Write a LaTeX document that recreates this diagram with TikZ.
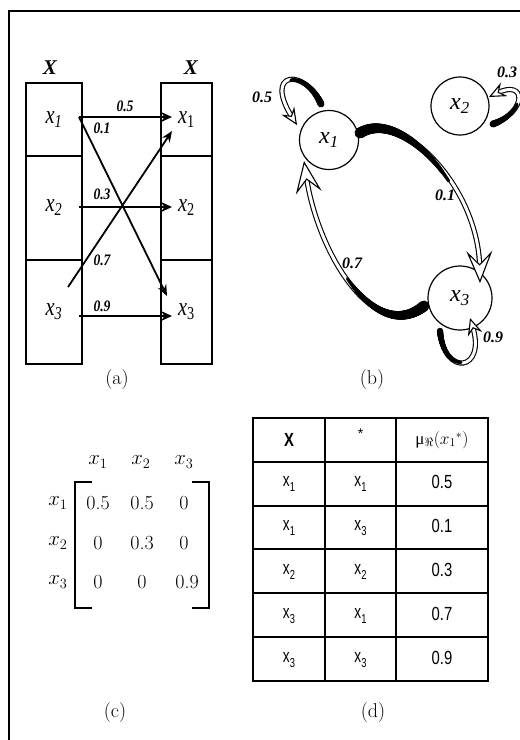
\documentclass[tikz,border=0pt]{standalone}
\usepackage{fontspec}
\usetikzlibrary{arrows.meta,decorations.markings,calc}
\newfontfamily\tnr{Liberation Serif}
\newfontfamily\lsans{Liberation Sans}
\newcommand\fs[1]{\fontsize{#1}{#1}\selectfont}
\newcommand\tx[1]{\scalebox{0.72}[1]{x\raisebox{-0.45ex}{\fs{13}#1}}}
\newcommand\tnum[1]{\scalebox{0.78}[1]{#1}}
\newcommand\cx[1]{\scalebox{0.85}[1.08]{x\textsubscript{#1}}}
% ribbon arrow: #1 start, #2 c1, #3 c2, #4 tip, #5 taper fraction, #6 start radius, #7 arrow tip, #8 shorten
\newcommand\ribbon[8]{%
  \draw[line width=1.1, double=white, double distance=3, shorten >=#8] #1 .. controls #2 and #3 .. #4;
  \path[decorate, decoration={markings,
    mark=between positions 0 and #5 step 0.5pt with {%
      \pgfmathsetmacro\rr{max(1.6,1.6+(#6-1.6)*(1-\pgfkeysvalueof{/pgf/decoration/mark info/sequence number}*0.5/(#5*\pgfdecoratedpathlength)))}%
      \fill (0,0) circle (\rr pt);}}] #1 .. controls #2 and #3 .. #4;
  \draw[line width=1.1, -{#7}] ($#4!2pt!#3$) -- #4;
}
\begin{document}
\begin{tikzpicture}[x=1pt,y=-1pt,
  cellbox/.style={draw, line width=1.5, inner sep=0, font=\tnr\itshape\fs{24}},
  hdr/.style={inner sep=0, font=\tnr\bfseries\itshape\fs{21}},
  alabel/.style={inner sep=0, font=\tnr\bfseries\itshape\fs{16}},
  aarrow/.style={line width=1.8, -{Stealth[length=11pt,width=9pt]}},
  harrow/.style={line width=2.8, -{Stealth[length=11pt,width=10pt]}},
  state/.style={draw, circle, line width=1.2, inner sep=0, font=\tnr\itshape\fs{24}},
  blabel/.style={inner sep=0, font=\tnr\bfseries\itshape\fs{16}},
  sublabel/.style={inner sep=0, font=\fs{20}},
  mat/.style={inner sep=0, font=\fs{20}},
  tcell/.style={inner sep=0, font=\lsans\fs{19}},
  bigtip/.style={},
]
\useasboundingbox (0,0) rectangle (520,740);
\fill[white] (0,0) rectangle (520,740);
\draw[line width=2.5] (9,740) -- (9,11) -- (520,11);

% ---------------- (a)
\node[hdr] (XL) at (50,68) {X};
\node[hdr] (XR) at (191,68) {X};
\node[cellbox, minimum width=56, minimum height=73] (L1) at (54,119.5) {\cx{1}};
\node[cellbox, minimum width=56, minimum height=104] (L2) at (54,208) {\cx{2}};
\node[cellbox, minimum width=56, minimum height=104] (L3) at (54,312) {\cx{3}};
\node[cellbox, minimum width=51, minimum height=73] (R1) at (186.5,119.5) {\cx{\upshape 1}};
\node[cellbox, minimum width=51, minimum height=104] (R2) at (186.5,208) {\cx{\upshape 2}};
\node[cellbox, minimum width=51, minimum height=104] (R3) at (186.5,312) {\cx{\upshape 3}};

\coordinate (p1) at (79,117);  \coordinate (q1) at (172,117);
\coordinate (p2) at (79,207);  \coordinate (q2) at (172,207);
\coordinate (p3) at (79,316);  \coordinate (q3) at (172,316);
\coordinate (q3d) at (167,296);
\coordinate (p3d) at (68,287); \coordinate (q1d) at (172,131);
\draw[harrow] (p1) -- (q1);
\draw[aarrow] (p1) -- (q3d);
\draw[harrow] (p2) -- (q2);
\draw[aarrow] (p3d) -- (q1d);
\draw[harrow] (p3) -- (q3);
\node[alabel] (l05) at (125,106) {\scalebox{0.85}[1]{0.5}};
\node[alabel] (l01) at (102,128) {\scalebox{0.85}[1]{0.1}};
\node[alabel] (l03) at (102,194) {\scalebox{0.85}[1]{0.3}};
\node[alabel] (l07) at (102,260) {\scalebox{0.85}[1]{0.7}};
\node[alabel] (l09) at (102,306) {\scalebox{0.85}[1]{0.9}};
\node[sublabel] (capa) at (117,380) {(a)};

% ---------------- (b)
\node[state, minimum size=59] (c1) at (329,140) {x\textsubscript{1}};
\node[state, minimum size=58] (c2) at (460,106) {x\textsubscript{2}};
\node[state, minimum size=64] (c3) at (460,298) {x\textsubscript{3}};

\ribbon{(360,133)}{(400,108)}{(478,185)}{(480,283)}{0.5}{5.5}{Stealth[length=32pt,width=26pt,inset=13pt,fill=white,line width=1.1pt]}{16}
\ribbon{(424,306)}{(375,345)}{(318,255)}{(304,161)}{0.42}{5.5}{Stealth[length=32pt,width=26pt,inset=13pt,fill=white,line width=1.1pt]}{16}
\ribbon{(321,104)}{(305,68)}{(262,70)}{(297,125)}{0.45}{3.5}{Stealth[length=17pt,width=15pt,inset=6pt,fill=white,line width=1.1pt]}{8}
\ribbon{(493,124)}{(527,112)}{(527,78)}{(489,97)}{0.45}{3.5}{Stealth[length=17pt,width=15pt,inset=6pt,fill=white,line width=1.1pt]}{8}
\ribbon{(440,331)}{(444,377)}{(487,372)}{(470,318)}{0.45}{3.2}{Stealth[length=17pt,width=15pt,inset=6pt,fill=white,line width=1.1pt]}{8}

\node[blabel] (b05) at (262,97) {0.5};
\node[blabel] (b03) at (507,72) {0.3};
\node[blabel] (b01) at (445,195) {0.1};
\node[blabel] (b07) at (352,263) {0.7};
\node[blabel] (b09) at (493,337) {0.9};
\node[sublabel] (capb) at (372,380) {(b)};

% ---------------- (c)
\node[mat] (h1) at (98,462) {$x_1$};
\node[mat] (h2) at (141,462) {$x_2$};
\node[mat] (h3) at (184,462) {$x_3$};
\node[mat] (r1) at (58,503) {$x_1$};
\node[mat] (r2) at (58,543) {$x_2$};
\node[mat] (r3) at (58,582) {$x_3$};
\node[mat] (m11) at (98,503) {0.5};
\node[mat] (m12) at (142,503) {0.5};
\node[mat] (m13) at (184,503) {0};
\node[mat] (m21) at (98,543) {0};
\node[mat] (m22) at (142,543) {0.3};
\node[mat] (m23) at (184,543) {0};
\node[mat] (m31) at (98,582) {0};
\node[mat] (m32) at (142,582) {0};
\node[mat] (m33) at (187,582) {0.9};
\draw[line width=1.5] (92,482) -- (75,482) -- (75,608) -- (92,608);
\draw[line width=1.5] (192,482) -- (209,482) -- (209,608) -- (192,608);
\node[sublabel] (capc) at (115,713) {(c)};

% ---------------- (d)
\foreach \yy in {462,505.5,549,593,637} \draw[line width=2] (253,\yy) -- (488,\yy);
\foreach \xx in {325,396} \draw[line width=2] (\xx,418) -- (\xx,681);
\draw[line width=2.5] (253,418) rectangle (488,681);
\node[tcell, font=\lsans\bfseries\fs{19}] (dX) at (289,440) {\scalebox{0.78}[1]{X}};
\node[tcell, font=\lsans\fs{14}] (dS) at (360.5,434) {*};
\node[inner sep=0, font=\fs{17}] (dM) at (442,440) {{\tnr μ}$_{\Re}(x_{1}{}^{*})$};
\node[tcell] (d11) at (289,484) {\tx{1}};
\node[tcell] (d12) at (360.5,484) {\tx{1}};
\node[tcell] (d13) at (442,482) {\tnum{0.5}};
\node[tcell] (d21) at (289,528) {\tx{1}};
\node[tcell] (d22) at (360.5,528) {\tx{3}};
\node[tcell] (d23) at (442,526) {\tnum{0.1}};
\node[tcell] (d31) at (289,572) {\tx{2}};
\node[tcell] (d32) at (360.5,572) {\tx{2}};
\node[tcell] (d33) at (442,570) {\tnum{0.3}};
\node[tcell] (d41) at (289,616) {\tx{3}};
\node[tcell] (d42) at (360.5,616) {\tx{1}};
\node[tcell] (d43) at (442,614) {\tnum{0.7}};
\node[tcell] (d51) at (289,660) {\tx{3}};
\node[tcell] (d52) at (360.5,660) {\tx{3}};
\node[tcell] (d53) at (442,658) {\tnum{0.9}};
\node[sublabel] (capd) at (373,713) {(d)};
\end{tikzpicture}
\end{document}
